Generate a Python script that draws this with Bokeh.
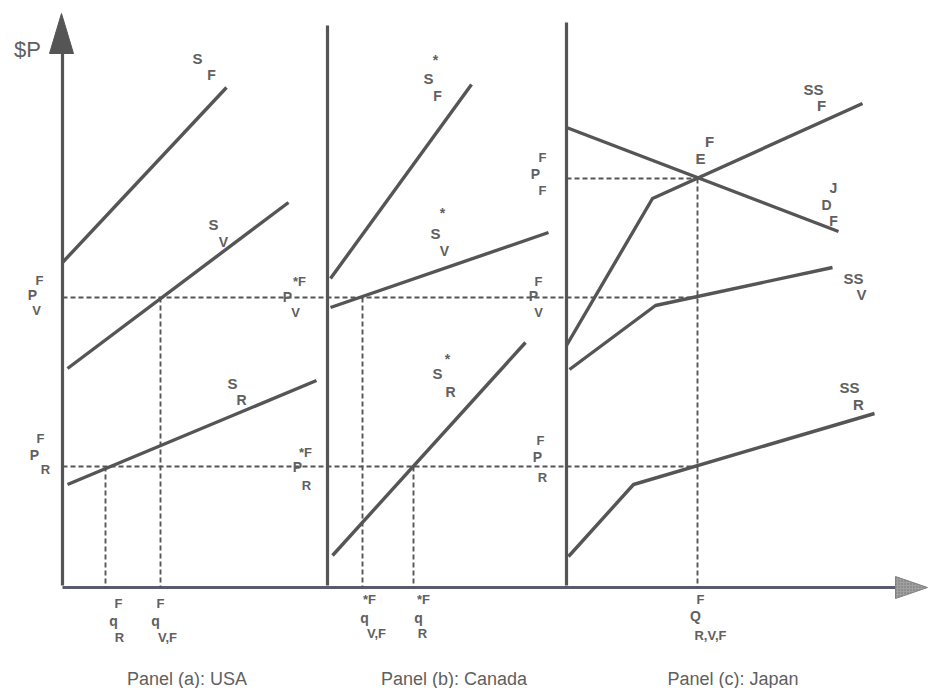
from bokeh.plotting import figure
from bokeh.models import Range1d, ColumnDataSource
from bokeh.core.properties import value
from bokeh.embed import file_html
from bokeh.resources import INLINE

# ---- diagram data (quantity x, price y in diagram units; y grows downward) ----
# Panel (a) USA supply curves
usa_SF_q = [62, 226];  usa_SF_p = [262, 87]
usa_SV_q = [67, 288];  usa_SV_p = [368, 202]
usa_SR_q = [67, 316];  usa_SR_p = [484, 380]
# Panel (b) Canada supply curves
can_SF_q = [330, 471]; can_SF_p = [278, 84]
can_SV_q = [330, 548]; can_SV_p = [307, 232]
can_SR_q = [332, 525]; can_SR_p = [555, 342]
# Panel (c) Japan demand and world supply curves
jp_DF_q = [566, 838];        jp_DF_p = [127, 231]
jp_SSF_q = [566, 652, 862];  jp_SSF_p = [345, 198, 103]
jp_SSV_q = [569, 655, 832];  jp_SSV_p = [369, 305, 267]
jp_SSR_q = [568, 633, 874];  jp_SSR_p = [556, 484, 413]

# equilibrium prices / quantities
price_V = 297; price_R = 466; price_F = 178
q_usa_R = 105; q_usa_VF = 160; q_can_VF = 362; q_can_R = 413; Q_jp = 697
axis_a = 62; axis_b = 327; axis_c = 566; axis_base = 587; axis_end = 927

# labels: (text, x, y, size)
labels = [
    ("S", 197, 58, 15), ("F", 211, 74, 14),
    ("S", 213, 224, 15), ("V", 223, 241, 14),
    ("S", 232, 383, 15), ("R", 241, 399, 14),
    ("F", 39, 280, 13), ("P", 32, 294, 14), ("V", 36, 310, 13),
    ("F", 40, 438, 13), ("P", 34, 454, 14), ("R", 45, 469, 13),
    ("*", 435, 59, 14), ("S", 428, 78, 15), ("F", 437, 95, 14),
    ("*", 442, 212, 14), ("S", 435, 233, 15), ("V", 444, 250, 14),
    ("*", 447, 358, 14), ("S", 437, 373, 15), ("R", 450, 391, 14),
    ("*F", 299, 281, 13), ("P", 287, 296, 14), ("V", 295, 312, 13),
    ("*F", 305, 452, 13), ("P", 297, 466, 14), ("R", 306, 485, 13),
    ("F", 542, 157, 13), ("P", 535, 173, 14), ("F", 542, 190, 13),
    ("F", 538, 281, 13), ("P", 533, 295, 14), ("V", 538, 312, 13),
    ("F", 540, 440, 13), ("P", 537, 456, 14), ("R", 542, 477, 13),
    ("F", 709, 141, 15), ("E", 700, 158, 15),
    ("SS", 813, 89, 15), ("F", 821, 105, 15),
    ("J", 833, 187, 14), ("D", 826, 204, 14), ("F", 833, 220, 14),
    ("SS", 853, 278, 15), ("V", 861, 294, 15),
    ("SS", 849, 387, 15), ("R", 858, 404, 15),
    ("F", 118, 603, 13), ("q", 113, 620, 14), ("R", 119, 637, 13),
    ("F", 160, 603, 13), ("q", 155, 620, 14), ("V,F", 167, 637, 13),
    ("*F", 369, 599, 13), ("q", 364, 617, 14), ("V,F", 376, 633, 13),
    ("*F", 423, 599, 13), ("q", 418, 617, 14), ("R", 422, 633, 13),
    ("F", 700, 599, 13), ("Q", 695, 615, 14), ("R,V,F", 710, 635, 13),
]
titles = ["Panel  (a): USA", "Panel  (b): Canada", "Panel  (c): Japan"]
title_x = [189, 456, 735]
title_y = [678, 678, 678]

INK = "#555555"
TXT = "#606060"

p = figure(width=928, height=688, x_range=Range1d(0, 928), y_range=Range1d(688, 0),
           output_backend="svg", toolbar_location=None, min_border=0)
p.axis.visible = False
p.grid.visible = False
p.outline_line_color = None
p.background_fill_color = "white"

# axes
p.line([axis_a, axis_a], [50, axis_base - 2], line_color=INK, line_width=3.2)
p.patch([49, 73, 61], [53, 53, 13], fill_color=INK, line_color=INK)
p.line([axis_b, axis_b], [25, axis_base - 2], line_color=INK, line_width=3.2)
p.line([axis_c, axis_c], [22, axis_base - 2], line_color=INK, line_width=3.2)
p.line([axis_a, 897], [axis_base, axis_base], line_color="#585c6c", line_width=3.2)
p.patch([895, 895, axis_end], [576, 598, axis_base], fill_color="#a0a0a0",
        line_color="#808080", hatch_pattern="dot", hatch_color="#707070", hatch_scale=3)

# dashed guide lines
dash = dict(line_color=INK, line_width=1.9, line_dash="5 3")
p.line([axis_a, Q_jp], [price_V, price_V], **dash)
p.line([axis_a, Q_jp], [price_R, price_R], **dash)
p.line([axis_c, Q_jp], [price_F, price_F], **dash)
p.line([q_usa_R, q_usa_R], [price_R, axis_base], **dash)
p.line([q_usa_VF, q_usa_VF], [price_V, axis_base], **dash)
p.line([q_can_VF, q_can_VF], [price_V, axis_base], **dash)
p.line([q_can_R, q_can_R], [price_R, axis_base], **dash)
p.line([Q_jp, Q_jp], [price_F, axis_base], **dash)

# curves
for qs, ps in [(usa_SF_q, usa_SF_p), (usa_SV_q, usa_SV_p), (usa_SR_q, usa_SR_p),
               (can_SF_q, can_SF_p), (can_SV_q, can_SV_p), (can_SR_q, can_SR_p),
               (jp_DF_q, jp_DF_p), (jp_SSF_q, jp_SSF_p), (jp_SSV_q, jp_SSV_p),
               (jp_SSR_q, jp_SSR_p)]:
    p.line(qs, ps, line_color=INK, line_width=3.4, line_join="round")

# labels
src = ColumnDataSource(dict(
    t=[l[0] for l in labels], x=[l[1] for l in labels], y=[l[2] for l in labels],
    s=[f"{l[3]}px" for l in labels]))
p.text("x", "y", text="t", source=src, text_font=value("Liberation Sans"),
       text_font_style="bold", text_font_size="s", text_color=TXT,
       text_align="center", text_baseline="middle")

p.text([27], [49], text=["$P"], text_font=value("Liberation Sans"),
       text_font_size="22px", text_color=TXT, text_align="center", text_baseline="middle")

p.text(title_x, title_y, text=titles, text_font=value("Liberation Sans"),
       text_font_size="18px", text_color=TXT, text_align="center", text_baseline="middle")

open("out.html", "w").write(file_html(p, INLINE))
